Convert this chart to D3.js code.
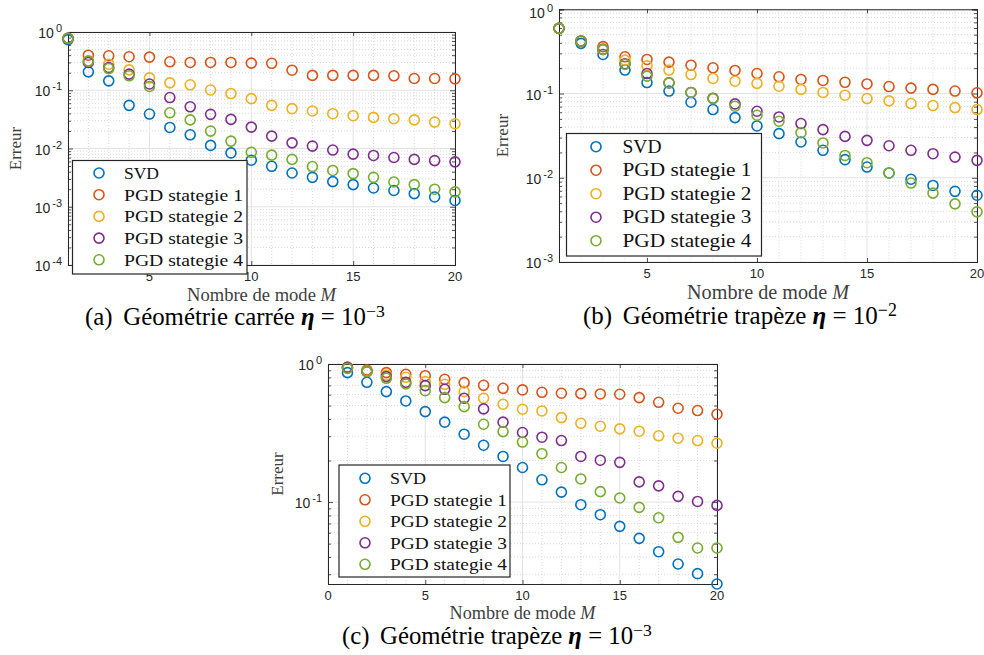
<!DOCTYPE html>
<html><head><meta charset="utf-8">
<script src="https://cdn.jsdelivr.net/npm/d3@7"></script>
<style>
html,body{margin:0;padding:0;background:#fff;}
svg{display:block;}
</style></head>
<body>
<svg id="fig" width="984" height="655"></svg>
<script>
// ---------------- DATA ----------------
const modes = [1,2,3,4,5,6,7,8,9,10,11,12,13,14,15,16,17,18,19,20];
const seriesNames = ["SVD","PGD stategie 1","PGD stategie 2","PGD stategie 3","PGD stategie 4"];
const seriesColors = ["#0072BD","#D95319","#EDB120","#7E2F8E","#77AC30"];

// (a) Géométrie carrée, eta = 1e-3
const a_svd  = [0.74,0.207,0.145,0.055,0.039,0.023,0.0172,0.0113,0.0084,0.0063,0.00495,0.0038,0.0032,0.0027,0.0024,0.0021,0.0019,0.00168,0.00147,0.00128];
const a_pgd1 = [0.78,0.40,0.39,0.376,0.37,0.308,0.30,0.30,0.30,0.292,0.29,0.221,0.18,0.18,0.18,0.18,0.177,0.159,0.159,0.157];
const a_pgd2 = [0.78,0.32,0.28,0.224,0.163,0.134,0.124,0.101,0.0877,0.0718,0.055,0.0483,0.044,0.0396,0.0366,0.0342,0.0325,0.031,0.0284,0.0266];
const a_pgd3 = [0.78,0.30,0.246,0.189,0.128,0.075,0.052,0.0386,0.0316,0.0233,0.0163,0.0125,0.011,0.0094,0.008,0.0076,0.007,0.0065,0.0062,0.0059];
const a_pgd4 = [0.78,0.316,0.236,0.177,0.116,0.041,0.031,0.0199,0.0134,0.0086,0.0077,0.0065,0.0049,0.0042,0.0037,0.0032,0.00266,0.0024,0.002,0.0018];

// (b) Géométrie trapèze, eta = 1e-2
const b_svd  = [0.594,0.394,0.291,0.19,0.135,0.107,0.0788,0.0645,0.0518,0.0412,0.0334,0.0266,0.0212,0.0164,0.0134,0.0114,0.0096,0.0081,0.0069,0.0062];
const b_pgd1 = [0.594,0.42,0.36,0.273,0.254,0.236,0.217,0.202,0.188,0.173,0.158,0.147,0.143,0.136,0.130,0.121,0.116,0.112,0.107,0.102];
const b_pgd2 = [0.594,0.42,0.334,0.249,0.213,0.19,0.168,0.151,0.14,0.132,0.122,0.112,0.103,0.0955,0.0872,0.0818,0.076,0.072,0.068,0.0645];
const b_pgd3 = [0.594,0.42,0.334,0.225,0.173,0.134,0.103,0.088,0.0753,0.0616,0.0527,0.044,0.0373,0.031,0.0278,0.024,0.0212,0.0193,0.0176,0.0161];
const b_pgd4 = [0.594,0.42,0.334,0.223,0.161,0.134,0.103,0.087,0.0707,0.0552,0.0469,0.0343,0.0259,0.0184,0.0151,0.0114,0.00865,0.00657,0.0049,0.00394];

// (c) Géométrie trapèze, eta = 1e-3
const c_svd  = [0.866,0.737,0.631,0.54,0.452,0.379,0.31,0.258,0.214,0.178,0.145,0.118,0.0957,0.081,0.0667,0.0546,0.0437,0.0356,0.0303,0.0255];
const c_pgd1 = [0.946,0.905,0.866,0.842,0.823,0.775,0.733,0.701,0.667,0.649,0.624,0.614,0.61,0.607,0.604,0.571,0.528,0.478,0.46,0.433];
const c_pgd2 = [0.946,0.89,0.833,0.801,0.745,0.713,0.631,0.565,0.511,0.47,0.457,0.409,0.372,0.354,0.339,0.326,0.302,0.29,0.279,0.267];
const c_pgd3 = [0.946,0.88,0.81,0.737,0.697,0.656,0.565,0.473,0.379,0.319,0.295,0.279,0.214,0.201,0.194,0.14,0.131,0.11,0.101,0.0946];
const c_pgd4 = [0.93,0.88,0.788,0.717,0.641,0.571,0.491,0.366,0.324,0.272,0.224,0.178,0.147,0.119,0.107,0.0915,0.077,0.0555,0.0465,0.0465];

const xTicksAB = [5,10,15,20];
const xTicksC  = [0,5,10,15,20];
const yTickExpA = [0,-1,-2,-3,-4];
const yTickExpB = [0,-1,-2,-3];
const yTickExpC = [0,-1];

const captionA = {label:"(a)", text:"Géométrie carrée", exp:"−3"};
const captionB = {label:"(b)", text:"Géométrie trapèze", exp:"−2"};
const captionC = {label:"(c)", text:"Géométrie trapèze", exp:"−3"};
const yLabel = "Erreur";
const xLabel = "Nombre de mode ";

// ---------------- DRAWING ----------------
const svg = d3.select("#fig");
const AX = "#262626";
const SERIF = "'Liberation Serif','Tinos','Times New Roman','DejaVu Serif','Noto Serif',serif";
const SANS = "'Liberation Sans',Arial,Helvetica,sans-serif";

function fitWidth(sel, target){
  const fs = parseFloat(sel.attr("font-size"));
  const w = sel.node().getBBox().width;
  if (w > 0) {
    const k = target / w;
    sel.attr("font-size", fs * k);
    sel.selectAll("tspan").each(function(){
      const t = d3.select(this);
      if (t.attr("font-size")) t.attr("font-size", parseFloat(t.attr("font-size")) * k);
      if (t.attr("dy")) t.attr("dy", parseFloat(t.attr("dy")) * k);
      if (t.attr("dx")) t.attr("dx", parseFloat(t.attr("dx")) * k);
    });
  }
}

function panel(cfg){
  const g = svg.append("g");
  const x = d3.scaleLinear().domain(cfg.xDomain).range([cfg.L, cfg.R]);
  const y = d3.scaleLog().domain(cfg.yDomain).range([cfg.B, cfg.T]);
  const [ymin,ymax] = cfg.yDomain;
  const minorY = [];
  for(let e=Math.floor(Math.log10(ymin)); e<0; e++){
    for(let k=2;k<=9;k++){ const v=k*Math.pow(10,e); if(v>=ymin && v<=ymax) minorY.push(v); }
  }
  const minorX = d3.range(Math.ceil(cfg.xDomain[0]), cfg.xDomain[1]+1).filter(v=>!cfg.xTicks.includes(v));
  const majorY = cfg.yExp.map(e=>Math.pow(10,e));

  const grid = g.append("g");
  grid.selectAll(".mx").data(minorX).join("line")
    .attr("x1",d=>x(d)).attr("x2",d=>x(d)).attr("y1",cfg.T).attr("y2",cfg.B)
    .attr("stroke","#cfcfcf").attr("stroke-width",0.8).attr("stroke-dasharray","1,2");
  grid.selectAll(".my").data(minorY).join("line")
    .attr("x1",cfg.L).attr("x2",cfg.R).attr("y1",d=>y(d)).attr("y2",d=>y(d))
    .attr("stroke","#cfcfcf").attr("stroke-width",0.8).attr("stroke-dasharray","1,2");
  grid.selectAll(".Mx").data(cfg.xTicks).join("line")
    .attr("x1",d=>x(d)).attr("x2",d=>x(d)).attr("y1",cfg.T).attr("y2",cfg.B)
    .attr("stroke","#e3e3e3").attr("stroke-width",1);
  grid.selectAll(".My").data(majorY).join("line")
    .attr("x1",cfg.L).attr("x2",cfg.R).attr("y1",d=>y(d)).attr("y2",d=>y(d))
    .attr("stroke","#e3e3e3").attr("stroke-width",1);

  const axB = d3.axisBottom(x).tickValues(cfg.xTicks).tickSize(-4).tickFormat("");
  const axT = d3.axisTop(x).tickValues(cfg.xTicks).tickSize(-4).tickFormat("");
  const axL = d3.axisLeft(y).tickValues(majorY).tickSize(-5).tickFormat("");
  const axR = d3.axisRight(y).tickValues(majorY).tickSize(-5).tickFormat("");
  const axLm = d3.axisLeft(y).tickValues(minorY).tickSize(-3).tickFormat("");
  const axRm = d3.axisRight(y).tickValues(minorY).tickSize(-3).tickFormat("");
  [[axB,`translate(0,${cfg.B})`],[axT,`translate(0,${cfg.T})`],[axL,`translate(${cfg.L},0)`],
   [axR,`translate(${cfg.R},0)`],[axLm,`translate(${cfg.L},0)`],[axRm,`translate(${cfg.R},0)`]].forEach(([a,t])=>{
    const s = g.append("g").attr("transform",t).call(a);
    s.selectAll("path").attr("stroke",AX).attr("stroke-width",1);
    s.selectAll("line").attr("stroke",AX).attr("stroke-width",0.8);
  });

  g.selectAll(".xl").data(cfg.xTicks).join("text")
    .attr("x",d=>x(d)).attr("y",cfg.B+16).attr("text-anchor","middle")
    .attr("font-family",SANS).attr("font-size",13).attr("fill",AX).text(d=>d);
  const yl = g.selectAll(".yl").data(cfg.yExp).join("text")
    .attr("x",cfg.L-6).attr("y",d=>Math.max(y(Math.pow(10,d))+6, 18)).attr("text-anchor","end")
    .attr("font-family",SANS).attr("fill",AX);
  yl.append("tspan").attr("font-size",14).text("10");
  yl.append("tspan").attr("font-size",11).attr("dx",2).attr("dy",-6).text(d=>d===0?"0":"-"+(-d));

  g.append("text").attr("transform",`translate(${cfg.ylx},${(cfg.T+cfg.B)/2}) rotate(-90)`)
    .attr("text-anchor","middle").attr("font-family",SERIF).attr("font-size",17).attr("fill","#404040").text(yLabel);
  const xl = g.append("text").attr("x",(cfg.L+cfg.R)/2).attr("y",cfg.xly).attr("text-anchor","middle")
    .attr("font-family",SERIF).attr("font-size",17).attr("fill","#404040");
  xl.append("tspan").text(xLabel);
  xl.append("tspan").attr("font-style","italic").text("M");
  fitWidth(xl, cfg.xlw);

  cfg.series.forEach((vals,i)=>{
    g.append("g").selectAll("circle").data(modes.map((m,j)=>[m,vals[j]])).join("circle")
      .attr("cx",d=>x(d[0])).attr("cy",d=>y(d[1])).attr("r",5)
      .attr("fill","none").attr("stroke",seriesColors[i]).attr("stroke-width",1.6);
  });

  const lg = cfg.legend;
  g.append("rect").attr("x",lg.x).attr("y",lg.y).attr("width",lg.w).attr("height",lg.h)
    .attr("fill","#fff").attr("stroke",AX).attr("stroke-width",1.2);
  seriesNames.forEach((n,i)=>{
    const cy = lg.y0 + i*lg.dy;
    g.append("circle").attr("cx",lg.mx).attr("cy",cy).attr("r",5).attr("fill","none")
      .attr("stroke",seriesColors[i]).attr("stroke-width",1.6);
    g.append("text").attr("x",lg.tx).attr("y",cy+6).attr("font-family",SERIF)
      .attr("font-size",lg.fs).attr("fill","#111")
      .attr("textLength", i===0 ? lg.w0 : lg.w1).attr("lengthAdjust","spacingAndGlyphs").text(n);
  });

  const c = cfg.caption;
  const ct = g.append("text").attr("x",cfg.capX).attr("y",cfg.capY).attr("font-family",SERIF)
    .attr("font-size",21).attr("fill","#000");
  ct.append("tspan").text(c.label);
  ct.append("tspan").attr("dx",9).text(c.text+" ");
  ct.append("tspan").attr("font-style","italic").attr("font-weight","bold").text("η");
  ct.append("tspan").text(" = 10");
  ct.append("tspan").attr("font-size",15).attr("dy",-7).text(c.exp);
  fitWidth(ct, cfg.capW);
}

panel({L:68,R:455,T:32,B:265,xDomain:[1,20],yDomain:[1e-4,1],xTicks:xTicksAB,yExp:yTickExpA,
  series:[a_svd,a_pgd1,a_pgd2,a_pgd3,a_pgd4], ylx:21, xly:301, xlw:150,
  legend:{x:72.5,y:160.5,w:174.5,h:113.5,y0:173,dy:21.7,mx:99,tx:124,fs:17.5,w0:35,w1:119},
  caption:captionA, capX:85, capY:325, capW:300});
panel({L:559,R:977,T:9.3,B:262,xDomain:[1,20],yDomain:[1e-3,1],xTicks:xTicksAB,yExp:yTickExpB,
  series:[b_svd,b_pgd1,b_pgd2,b_pgd3,b_pgd4], ylx:508, xly:299, xlw:163,
  legend:{x:566.5,y:133.5,w:195,h:122.5,y0:146.7,dy:23.5,mx:596,tx:622.5,fs:19,w0:39,w1:129},
  caption:captionB, capX:583, capY:324, capW:314});
panel({L:328,R:717,T:364,B:584,xDomain:[0,20],yDomain:[0.0255,1],xTicks:xTicksC,yExp:yTickExpC,
  series:[c_svd,c_pgd1,c_pgd2,c_pgd3,c_pgd4], ylx:283, xly:619, xlw:147,
  legend:{x:339,y:465,w:171,h:112,y0:478.3,dy:21.5,mx:365,tx:390,fs:17,w0:36,w1:117},
  caption:captionC, capX:342, capY:644, capW:310});
</script>
</body></html>
